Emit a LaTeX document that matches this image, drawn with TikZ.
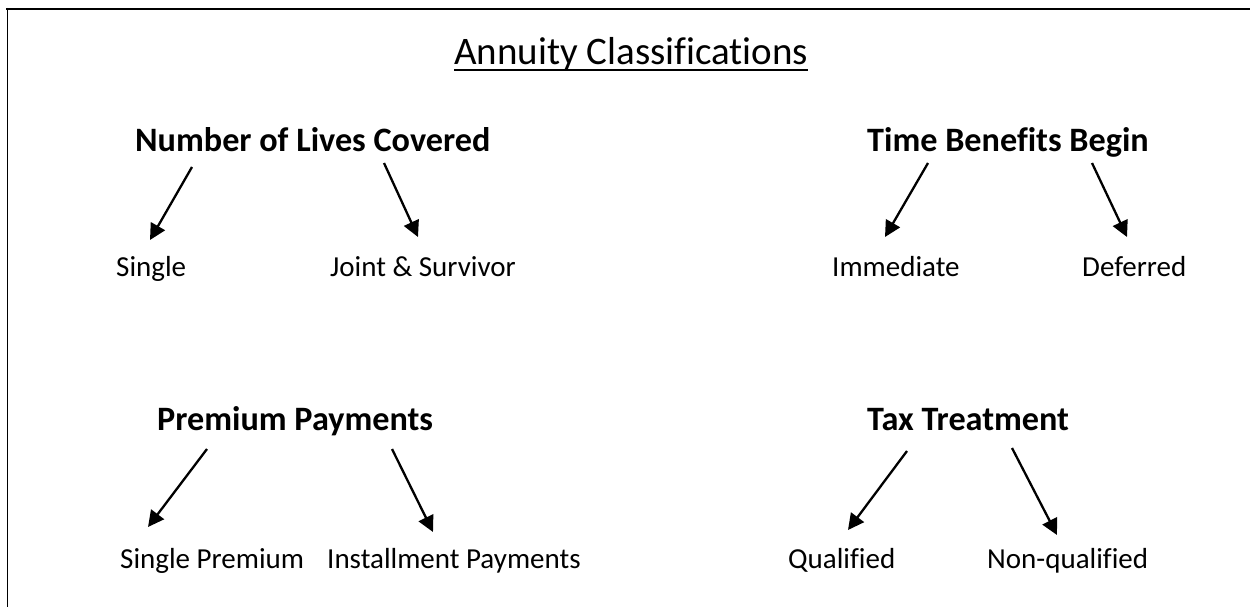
\documentclass[tikz,border=0pt]{standalone}
\usepackage{fontspec}
\setmainfont{Carlito}[Ligatures=NoCommon]
\usetikzlibrary{arrows.meta}
\begin{document}
\begin{tikzpicture}[x=1pt,y=-1pt,
  titletext/.style={anchor=base west,inner sep=0pt,font=\fontsize{39}{44}\selectfont},
  headtext/.style={anchor=base west,inner sep=0pt,font=\fontsize{34.2}{40}\selectfont\bfseries},
  leaftext/.style={anchor=base west,inner sep=0pt,font=\fontsize{29}{34}\selectfont},
  arr/.style={line width=2.3pt,-{Triangle[length=16pt,width=16pt]}},
  frame/.style={line width=2.5pt}]
\useasboundingbox (0,0) rectangle (1250,607);
% frame lines
\coordinate (ftl) at (6,9.2);
\coordinate (ftr) at (1250,9.2);
\coordinate (flt) at (7.3,8);
\coordinate (flb) at (7.3,607);
\draw[frame] (ftl) -- (ftr);
\draw[line width=1.3pt] (flt) -- (flb);
% title
\node[titletext] (title) at (454,65) {Annuity Classifications};
\draw[line width=2pt] ([yshift=-5pt]title.base west) -- ([yshift=-5pt]title.base east);
% headings
\node[headtext] (lives) at (135,152) {Number of Lives Covered};
\node[headtext] (time) at (867,151) {Time Benefits Begin};
\node[headtext] (prem) at (157,430) {Premium Payments};
\node[headtext] (tax) at (867,430) {Tax Treatment};
% leaves
\node[leaftext] (single) at (116,276) {Single};
\node[leaftext] (joint) at (330,276) {Joint \& Survivor};
\node[leaftext] (immed) at (832,276) {Immediate};
\node[leaftext] (defer) at (1082,276) {Deferred};
\node[leaftext] (sprem) at (120,568) {Single Premium};
\node[leaftext] (inst) at (327,568) {Installment Payments};
\node[leaftext] (qual) at (788,568) {Qualified};
\node[leaftext] (nonq) at (987,568) {Non-qualified};
% arrow endpoints
\coordinate (livesA) at (192,167); \coordinate (singleT) at (150,240);
\coordinate (livesB) at (384,163); \coordinate (jointT) at (418,237);
\coordinate (timeA) at (928,163);  \coordinate (immedT) at (885,237);
\coordinate (timeB) at (1092,163); \coordinate (deferT) at (1127,237);
\coordinate (premA) at (207,449);  \coordinate (spremT) at (148,527);
\coordinate (premB) at (392,449);  \coordinate (instT) at (433,532);
\coordinate (taxA) at (907,451);   \coordinate (qualT) at (848,530);
\coordinate (taxB) at (1012,448);  \coordinate (nonqT) at (1057,535);
\draw[arr] (livesA) -- (singleT);
\draw[arr] (livesB) -- (jointT);
\draw[arr] (timeA) -- (immedT);
\draw[arr] (timeB) -- (deferT);
\draw[arr] (premA) -- (spremT);
\draw[arr] (premB) -- (instT);
\draw[arr] (taxA) -- (qualT);
\draw[arr] (taxB) -- (nonqT);
\end{tikzpicture}
\end{document}
